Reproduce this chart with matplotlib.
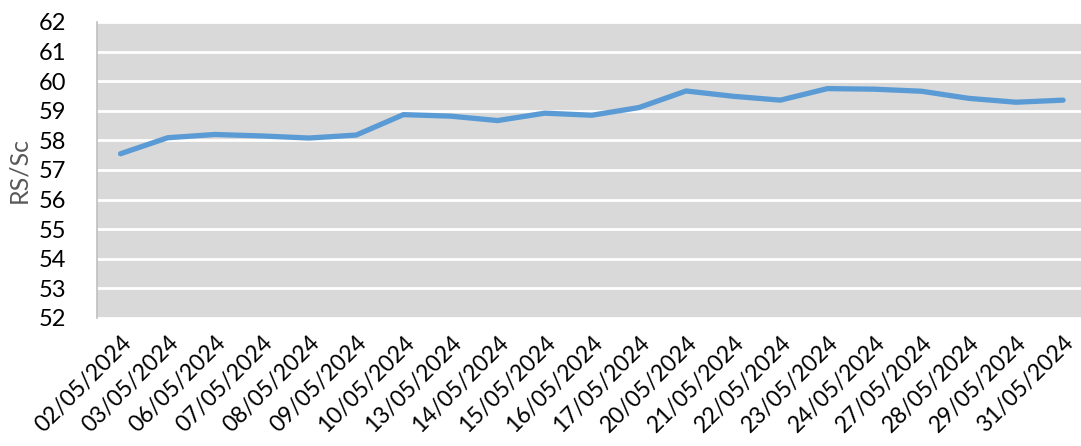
import matplotlib
matplotlib.use("Agg")
import matplotlib.pyplot as plt

# data
dates = [
    "02/05/2024", "03/05/2024", "06/05/2024", "07/05/2024", "08/05/2024",
    "09/05/2024", "10/05/2024", "13/05/2024", "14/05/2024", "15/05/2024",
    "16/05/2024", "17/05/2024", "20/05/2024", "21/05/2024", "22/05/2024",
    "23/05/2024", "24/05/2024", "27/05/2024", "28/05/2024", "29/05/2024",
    "31/05/2024",
]
rs_sc = [
    57.55, 58.09, 58.20, 58.15, 58.08,
    58.18, 58.87, 58.82, 58.67, 58.92,
    58.85, 59.11, 59.67, 59.49, 59.36,
    59.75, 59.73, 59.66, 59.42, 59.29,
    59.36,
]
y_ticks = list(range(52, 63))

plt.rcParams["font.family"] = ["Lato", "DejaVu Sans"]

fig = plt.figure(figsize=(10.81, 4.46), dpi=100)
ax = fig.add_axes([97 / 1081, 1 - 318 / 446, 1 - 97 / 1081, (318 - 22) / 446])
ax.set_facecolor("#D9D9D9")

x = list(range(len(dates)))
ax.plot(x, rs_sc, color="#5B9BD5", linewidth=3.8, solid_capstyle="round",
        solid_joinstyle="round", zorder=3)

ax.set_ylim(52, 62)
ax.set_yticks(y_ticks)
ax.set_xlim(-0.5, len(dates) - 0.62)
ax.set_xticks(x)
ax.set_xticklabels(dates, rotation=45, ha="right", rotation_mode="anchor",
                   fontsize=16.5)
ax.tick_params(axis="x", length=0, pad=10, labelcolor="black")
ax.tick_params(axis="y", length=0, pad=22, labelsize=17, labelcolor="black")

ax.grid(axis="y", color="white", linewidth=2)
ax.set_axisbelow(True)
for side in ["top", "right", "bottom"]:
    ax.spines[side].set_visible(False)
ax.spines["left"].set_color("#BFBFBF")
ax.spines["left"].set_linewidth(1.2)

ax.set_ylabel("RS/Sc", color="#595959", fontsize=18, labelpad=6)

fig.savefig("out.png", dpi=100)
